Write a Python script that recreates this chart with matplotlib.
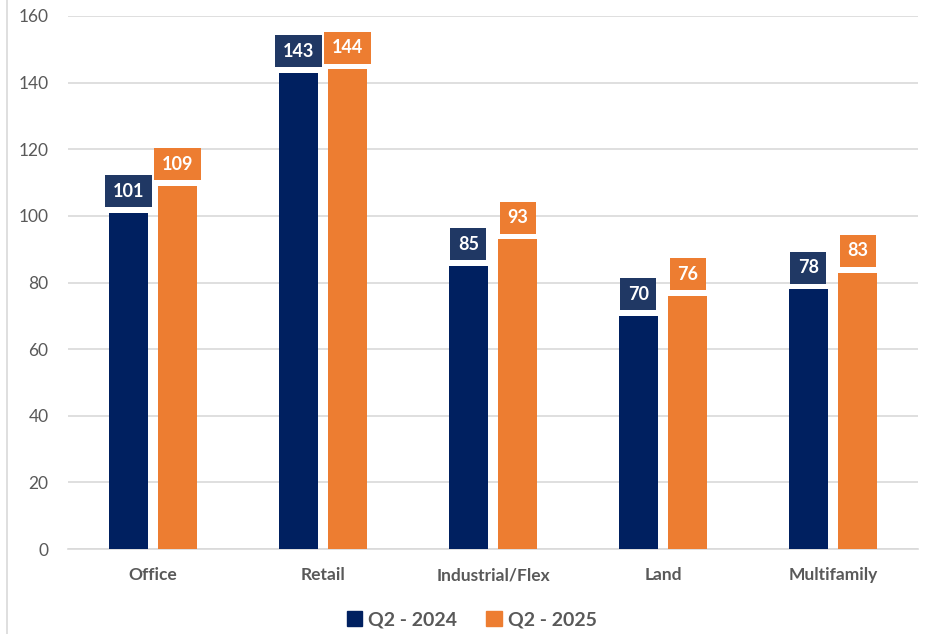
import matplotlib
matplotlib.use("Agg")
import matplotlib.pyplot as plt
import numpy as np
from matplotlib.patches import Patch
from matplotlib.lines import Line2D

categories = ["Office", "Retail", "Industrial/Flex", "Land", "Multifamily"]
q2_2024 = [101, 143, 85, 70, 78]
q2_2025 = [109, 144, 93, 76, 83]
series_names = ["Q2 - 2024", "Q2 - 2025"]
yticks = [0, 20, 40, 60, 80, 100, 120, 140, 160]

navy = "#002060"
navy_box = "#203864"
orange = "#ED7D31"
gray = "#595959"
font = "Lato"

fig = plt.figure(figsize=(9.43, 6.34), dpi=100)
ax = fig.add_axes([0.0721, 0.134, 0.9014, 0.8408])

x = np.arange(len(categories))
w = 0.23
off = 0.145
b1 = ax.bar(x - off, q2_2024, w, color=navy, zorder=3)
b2 = ax.bar(x + off, q2_2025, w, color=orange, zorder=3)

for bars, vals, bc in ((b1, q2_2024, navy_box), (b2, q2_2025, orange)):
    for r, v in zip(bars, vals):
        ax.annotate(str(v), (r.get_x() + r.get_width() / 2, v), xytext=(0, 15.5),
                    textcoords="offset points", ha="center", va="center",
                    color="white", fontsize=13, fontweight="bold", family=font,
                    bbox=dict(boxstyle="square,pad=0.42", fc=bc, ec="none"),
                    zorder=4)

ax.set_xlim(-0.5, len(categories) - 0.5)
ax.set_ylim(0, 160)
ax.set_yticks(yticks)
ax.set_xticks(x)
ax.set_xticklabels(categories, fontsize=12.5, fontweight="bold", color=gray, family=font)
for lab in ax.get_yticklabels():
    lab.set_fontsize(12.5)
    lab.set_color(gray)
    lab.set_family(font)
ax.tick_params(axis="both", length=0)
ax.tick_params(axis="x", pad=13)
ax.tick_params(axis="y", pad=14)
ax.grid(axis="y", color="#D9D9D9", linewidth=1.2, zorder=0)
for s in ["top", "right", "left"]:
    ax.spines[s].set_visible(False)
ax.spines["bottom"].set_color("#D9D9D9")
ax.spines["bottom"].set_linewidth(1.2)

handles = [Patch(color=navy), Patch(color=orange)]
fig.legend(handles, series_names, loc="center", bbox_to_anchor=(0.5, 0.022),
           ncol=2, frameon=False, handlelength=0.8, handleheight=0.8,
           handletextpad=0.3, columnspacing=1.5,
           prop=dict(family=font, weight="bold", size=14))
for t in fig.legends[0].get_texts():
    t.set_color(gray)

fig.add_artist(Line2D([0.0075, 0.0075], [0, 1], color="#D9D9D9", linewidth=1.2,
                      transform=fig.transFigure))

fig.savefig("out.png", dpi=100)
